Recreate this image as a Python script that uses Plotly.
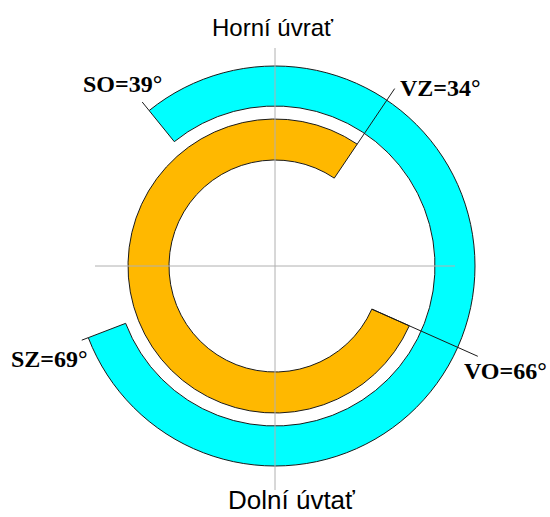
import plotly.graph_objects as go

# Valve timing data (degrees)
phase_names = ["SO", "SZ", "VO", "VZ"]
phase_angles = [39, 69, 66, 34]
SO, SZ, VO, VZ = phase_angles

# Rings: intake (cyan) from SO before TDC to SZ after BDC,
# exhaust (orange) from VO before BDC to VZ after TDC
intake_start, intake_end = -SO, 180 + SZ
exhaust_start, exhaust_end = 180 - VO, 360 + VZ

W, H = 550, 517
cx, cy = 275, 266
R = 230

fig = go.Figure()

# Cross lines (dead centres)
for th, rr in [(0, 218), (180, 224), (90, 180), (270, 180)]:
    fig.add_trace(go.Scatterpolar(r=[0, rr], theta=[th, th], mode="lines",
                                  line=dict(color="#b0b0b0", width=1),
                                  hoverinfo="skip", showlegend=False))

# Intake ring (cyan)
fig.add_trace(go.Barpolar(
    r=[40], base=[160],
    theta=[(intake_start + intake_end) / 2],
    width=[intake_end - intake_start],
    marker=dict(color="#00FFFF", line=dict(color="#1a1a1a", width=1)),
    showlegend=False))

# Exhaust ring (orange)
fig.add_trace(go.Barpolar(
    r=[41], base=[106],
    theta=[(exhaust_start + exhaust_end) / 2],
    width=[exhaust_end - exhaust_start],
    marker=dict(color="#FFB800", line=dict(color="#1a1a1a", width=1)),
    showlegend=False))

# Leader lines
leaders = [(intake_start, 200, 211), (intake_end, 200, 207),
           (exhaust_start, 106, 222), (exhaust_end, 147, 214)]
for th, r0, r1 in leaders:
    fig.add_trace(go.Scatterpolar(r=[r0, r1], theta=[th, th], mode="lines",
                                  line=dict(color="#1a1a1a", width=1),
                                  hoverinfo="skip", showlegend=False))

def px(x):
    return x / W

def py(y):
    return 1 - y / H

serif = dict(family="Liberation Serif, Times New Roman, serif", size=24, color="black")
sans = dict(family="Liberation Sans, Arial, sans-serif", size=24, color="black")

labels = [
    ("%s=%d°" % (phase_names[0], SO), 81, 84),
    ("%s=%d°" % (phase_names[3], VZ), 398, 88),
    ("%s=%d°" % (phase_names[1], SZ), 9, 359),
    ("%s=%d°" % (phase_names[2], VO), 462, 371),
]
annotations = []
for txt, x, y in labels:
    annotations.append(dict(text="<b>%s</b>" % txt, x=px(x), y=py(y), xref="paper", yref="paper",
                            xanchor="left", yanchor="middle", showarrow=False, font=serif))
annotations.append(dict(text="Horní úvrať", x=px(273), y=py(28), xref="paper", yref="paper",
                        xanchor="center", yanchor="middle", showarrow=False, font=sans))
annotations.append(dict(text="Dolní úvtať", x=px(291), y=py(500), xref="paper", yref="paper",
                        xanchor="center", yanchor="middle", showarrow=False,
                        font=dict(family="Liberation Sans, Arial, sans-serif", size=26, color="black")))

fig.update_layout(
    width=W, height=H,
    margin=dict(l=0, r=0, t=0, b=0),
    paper_bgcolor="white",
    plot_bgcolor="white",
    annotations=annotations,
    polar=dict(
        domain=dict(x=[(cx - R) / W, (cx + R) / W],
                    y=[(H - cy - R) / H, (H - cy + R) / H]),
        bgcolor="rgba(0,0,0,0)",
        bargap=0,
        radialaxis=dict(range=[0, R], visible=False, showgrid=False),
        angularaxis=dict(rotation=90, direction="clockwise", showgrid=False,
                         showline=False, showticklabels=False, ticks=""),
    ),
)

fig.write_html("out.html", config={"displayModeBar": False},
               post_script="document.body.style.margin='0';document.body.style.overflow='hidden';")
